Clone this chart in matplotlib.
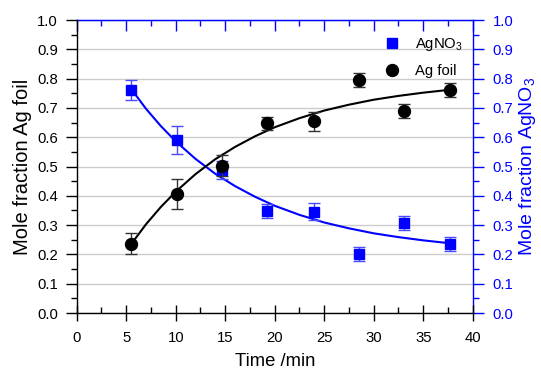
import matplotlib
matplotlib.use("Agg")
import matplotlib.pyplot as plt
from matplotlib.ticker import MultipleLocator

plt.rcParams['font.family'] = ['Liberation Sans', 'DejaVu Sans']
plt.rcParams['mathtext.fontset'] = 'custom'
plt.rcParams['mathtext.rm'] = 'Liberation Sans'
plt.rcParams['mathtext.it'] = 'Liberation Sans:italic'
plt.rcParams['mathtext.bf'] = 'Liberation Sans:bold'

# data
time_min = [5.5, 10.1, 14.7, 19.25, 24.0, 28.55, 33.1, 37.7]
ag_foil = [0.237, 0.406, 0.503, 0.647, 0.654, 0.795, 0.690, 0.761]
ag_foil_err = [0.035, 0.050, 0.035, 0.023, 0.033, 0.025, 0.024, 0.025]
agno3 = [0.761, 0.590, 0.488, 0.349, 0.346, 0.201, 0.308, 0.235]
agno3_err = [0.034, 0.048, 0.030, 0.024, 0.030, 0.024, 0.023, 0.024]

# fitted curves
fit_t = [5.5, 7, 8.5, 10, 12, 14, 16, 18, 20, 22.5, 25, 27.5, 30, 32.5, 35, 37.7]
fit_foil = [0.235, 0.303, 0.362, 0.414, 0.474, 0.525, 0.567, 0.603, 0.634,
            0.665, 0.691, 0.711, 0.728, 0.741, 0.752, 0.762]
fit_agno3 = [0.765, 0.697, 0.638, 0.586, 0.526, 0.475, 0.433, 0.397, 0.366,
             0.335, 0.309, 0.289, 0.272, 0.259, 0.248, 0.238]

BLUE = '#0000ff'

fig = plt.figure(figsize=(5.41, 3.79), dpi=100)
ax = fig.add_axes([0.1418, 0.1741, 0.7320, 0.7731])
ax2 = ax.twinx()

ax.set_zorder(ax2.get_zorder() + 1)
ax.patch.set_visible(False)

ax2.grid(True, color='#cccccc', linewidth=1.0)
ax2.set_axisbelow(True)

ax2.plot(fit_t, fit_agno3, color=BLUE, linewidth=1.5, zorder=2)
ax2.errorbar(time_min, agno3, yerr=agno3_err, fmt='none', ecolor='#4a4aff',
             elinewidth=1.0, capsize=4.5, capthick=1.0, zorder=3)
h1, = ax2.plot(time_min, agno3, 's', color=BLUE, markersize=7.5, zorder=4,
               label='AgNO$_3$')

ax.plot(fit_t, fit_foil, color='black', linewidth=1.5, zorder=2)
ax.errorbar(time_min, ag_foil, yerr=ag_foil_err, fmt='none', ecolor='#333333',
            elinewidth=1.0, capsize=4.5, capthick=1.0, zorder=3)
h2, = ax.plot(time_min, ag_foil, 'o', color='black', markersize=8.6, zorder=4,
              label='Ag foil')

for a in (ax, ax2):
    a.set_xlim(0, 40)
    a.set_ylim(0, 1.0)

ax.xaxis.set_major_locator(MultipleLocator(5))
ax.xaxis.set_minor_locator(MultipleLocator(2.5))
ax.yaxis.set_major_locator(MultipleLocator(0.1))
ax.yaxis.set_minor_locator(MultipleLocator(0.05))
ax2.yaxis.set_major_locator(MultipleLocator(0.1))
ax2.yaxis.set_minor_locator(MultipleLocator(0.05))
ax.yaxis.set_major_formatter(plt.FormatStrFormatter('%.1f'))
ax2.yaxis.set_major_formatter(plt.FormatStrFormatter('%.1f'))

ax.spines['top'].set_visible(False)
ax.spines['right'].set_visible(False)
ax2.spines['left'].set_visible(False)
ax2.spines['bottom'].set_visible(False)
ax2.spines['right'].set_color(BLUE)
ax2.spines['top'].set_color(BLUE)
for s in ('left', 'bottom'):
    ax.spines[s].set_linewidth(1.0)
ax2.spines['right'].set_linewidth(1.0)
ax2.spines['top'].set_linewidth(1.0)

TS = 10.7
ax.tick_params(axis='x', which='major', direction='inout', length=12, width=1.0,
               labelsize=TS, pad=7, top=False)
ax.tick_params(axis='x', which='minor', direction='in', length=4, width=1.0, top=False)
ax.tick_params(axis='y', which='major', direction='out', length=8, width=1.0,
               labelsize=TS, pad=5.5, right=False)
ax.tick_params(axis='y', which='minor', direction='out', length=4, width=1.0, right=False)
ax2.tick_params(axis='y', which='major', direction='out', length=8, width=1.0,
                labelsize=TS, pad=6.5, colors=BLUE)
ax2.tick_params(axis='y', which='minor', direction='out', length=4, width=1.0,
                colors=BLUE)

top = ax2.secondary_xaxis('top')
top.xaxis.set_major_locator(MultipleLocator(5))
top.xaxis.set_minor_locator(MultipleLocator(2.5))
top.tick_params(axis='x', which='major', direction='in', length=8, width=1.0,
                colors=BLUE, labeltop=False)
top.tick_params(axis='x', which='minor', direction='in', length=4, width=1.0,
                colors=BLUE)
top.spines['top'].set_color(BLUE)

ax.set_xlabel('Time /min', fontsize=13.3, labelpad=6)
ax.set_ylabel('Mole fraction Ag foil', fontsize=14.5, labelpad=4)
ax2.set_ylabel('Mole fraction AgNO$_3$', fontsize=14, color=BLUE, labelpad=2)

leg = ax.legend(handles=[h1, h2], loc='upper right',
                bbox_to_anchor=(1.01, 0.99), frameon=False, fontsize=TS,
                handlelength=1.0, handletextpad=1.1, labelspacing=0.75)

fig.savefig('out.png', dpi=100)
